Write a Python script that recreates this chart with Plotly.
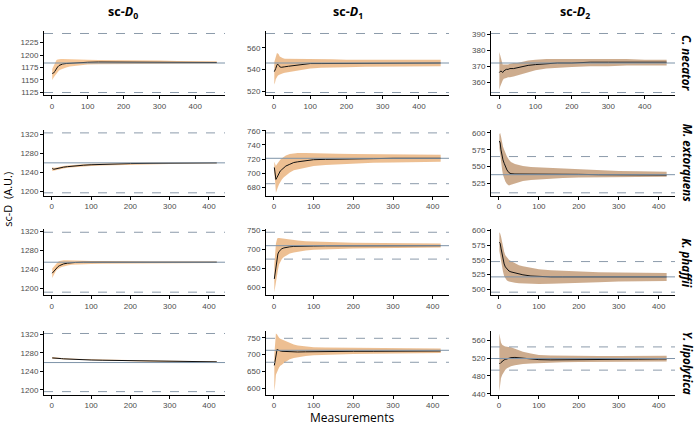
import plotly.graph_objects as go

# ---------------- data ----------------
rows = ["C. necator", "M. extorquens", "K. phaffii", "Y. lipolytica"]
col_sub = ["0", "1", "2"]

x_cn = [1, 3, 5, 8, 10, 13, 16, 20, 25, 30, 40, 50, 60, 80, 100, 130, 160, 200, 250, 300, 350, 400, 460]
x_ot = [1, 3, 5, 8, 10, 13, 16, 20, 25, 30, 40, 50, 60, 80, 100, 130, 160, 200, 250, 300, 350, 400, 420]

# reference values (solid line); dashed lines at +/-5 %
ref_cn = [1184, 546, 372]
ref_me = [1260, 721, 538]
ref_kp = [1255, 710, 521]
ref_yl = [1259, 713, 519]

# C. necator
cn_d0_mean = [1163, 1163, 1164, 1167, 1170, 1173, 1176, 1179, 1181, 1182, 1183, 1183.5, 1184, 1185, 1185.5, 1186, 1186, 1186, 1186, 1185.5, 1185.5, 1185, 1185]
cn_d0_lo = [1150, 1152, 1155, 1158, 1160, 1163, 1166, 1169, 1171, 1173, 1175, 1177, 1178, 1180, 1181, 1181.5, 1182, 1182, 1182.5, 1182.5, 1183, 1183, 1183]
cn_d0_hi = [1172, 1175, 1180, 1185, 1188, 1190, 1191, 1192, 1192, 1192, 1192, 1191.5, 1191, 1191, 1190.5, 1190, 1190, 1189.5, 1189, 1189, 1188, 1188, 1187.5]
cn_d1_mean = [538, 539, 541, 544, 545, 544, 542.5, 542, 542, 542.5, 543, 543.5, 544, 545, 545.5, 545.5, 545.5, 546, 546, 546, 546, 546, 546]
cn_d1_lo = [526, 528, 531, 533, 534, 535, 535, 536, 536.5, 537, 538, 538.5, 539, 540, 541, 541.5, 542, 542, 542.5, 542.5, 543, 543, 543]
cn_d1_hi = [547, 550, 553, 555, 555, 554, 552, 551, 550.5, 550, 550, 550, 550, 550, 550, 549.5, 549.5, 549, 549, 549, 549, 549, 549]
cn_d2_mean = [366, 367, 367, 366.5, 366, 367, 367.5, 368, 368, 368.5, 368.5, 369, 369.5, 370.5, 371, 371.5, 372, 372, 372.5, 372.5, 372.5, 372.5, 372.5]
cn_d2_lo = [355, 357, 359, 360, 361, 362, 362, 362.5, 363, 363, 363.5, 364, 364.5, 366, 367.5, 368.5, 369, 369.5, 370, 370, 370.5, 370.5, 370.5]
cn_d2_hi = [379, 377, 374, 372, 371, 371, 371, 371, 371, 371.5, 372, 372, 372.5, 373.5, 374, 374.5, 374.5, 374.5, 374.5, 374.5, 374.5, 374, 374]

# M. extorquens
me_d0_mean = [1248, 1247, 1246.5, 1247, 1247.5, 1248, 1248.5, 1249, 1250, 1251, 1252, 1253, 1254, 1255, 1256, 1257, 1258, 1258.5, 1259, 1259.5, 1259.5, 1260, 1260]
me_d0_lo = [1243, 1243, 1243, 1244, 1244.5, 1245, 1245.5, 1246, 1247, 1248, 1249.5, 1250.5, 1251.5, 1252.5, 1253.5, 1254.5, 1255.5, 1256.5, 1257, 1257.5, 1258, 1258, 1258.5]
me_d0_hi = [1251, 1250, 1249.5, 1249.5, 1250, 1250.5, 1251, 1251.5, 1252.5, 1253.5, 1254.5, 1255.5, 1256, 1257, 1258, 1259, 1259.5, 1260, 1260.5, 1261, 1261, 1261.5, 1261.5]
me_d1_mean = [708, 700, 691, 694, 697, 700, 703, 705, 708, 710, 712.5, 715, 716, 718, 719, 719.5, 720, 720, 720.5, 721, 721, 721, 721]
me_d1_lo = [700, 688, 672, 676, 680, 684, 688, 691, 694, 697, 701, 704, 706, 708, 710, 711.5, 712.5, 713.5, 714.5, 715, 715.5, 716, 716]
me_d1_hi = [716, 714, 710, 713, 715, 717, 719, 721, 723, 725, 727, 728, 728.5, 728.5, 728, 727.5, 727.5, 727, 727, 726.5, 726.5, 726, 726]
me_d2_mean = [588, 585, 575, 565, 560, 555, 550, 545, 541, 539.5, 539, 539, 539, 539, 539, 539.5, 539, 538.5, 538, 538, 537.5, 537.5, 537.5]
me_d2_lo = [578, 572, 560, 545, 538, 533, 528, 524, 522, 523, 525, 527, 528.5, 530, 531, 532, 533, 534, 534.5, 535, 535, 535, 535]
me_d2_hi = [598, 600, 595, 585, 580, 575, 570, 565, 560, 557, 554, 552, 551, 549.5, 549, 548, 547, 545.5, 544.5, 543.5, 543, 542.5, 542.5]

# K. phaffii
kp_d0_mean = [1232, 1234, 1237, 1240, 1242, 1244, 1246, 1248, 1250, 1251.5, 1253, 1254, 1254.5, 1255, 1255, 1255, 1255, 1255, 1255, 1255, 1255, 1255, 1255]
kp_d0_lo = [1222, 1225, 1229, 1233, 1236, 1239, 1241, 1243, 1245, 1246.5, 1248, 1249.5, 1250.5, 1251, 1251.5, 1252, 1252.5, 1253, 1253, 1253.5, 1253.5, 1253.5, 1253.5]
kp_d0_hi = [1242, 1244, 1247, 1250, 1252, 1254, 1256, 1257.5, 1258.5, 1259, 1259, 1258.5, 1258, 1258, 1257.5, 1257.5, 1257, 1257, 1256.5, 1256.5, 1256.5, 1256.5, 1256.5]
kp_d1_mean = [622, 635, 655, 678, 688, 695, 699, 702, 704, 705.5, 707, 708, 708.5, 709, 709, 709.5, 709.5, 710, 710, 710, 710, 710, 710]
kp_d1_lo = [587, 595, 610, 630, 645, 660, 668, 675, 680, 684, 689, 692, 694, 697, 699, 700.5, 701.5, 702.5, 703.5, 704, 704.5, 705, 705]
kp_d1_hi = [660, 690, 715, 728, 730, 730, 729.5, 729, 728, 727, 725.5, 724.5, 723.5, 722, 721, 720, 719, 718, 717.5, 717, 716.5, 716, 716]
kp_d2_mean = [580, 578, 570, 558, 550, 543, 538, 534, 531, 529.5, 527.5, 526, 524.5, 522.5, 521.5, 521, 521, 521, 521, 521, 521, 521, 521]
kp_d2_lo = [565, 560, 550, 538, 530, 522, 518, 515, 513, 512, 511, 510, 509.5, 509, 509, 509.5, 510, 511.5, 512, 513, 513.5, 514, 514]
kp_d2_hi = [597, 595, 590, 578, 570, 564, 558, 554, 550, 548, 544, 541, 539, 536, 534, 532.5, 531.5, 530, 529, 528.5, 528, 527.5, 527.5]

# Y. lipolytica
yl_d0_mean = [1269, 1269, 1268.5, 1268, 1268, 1268, 1268, 1268, 1267.5, 1267, 1266.5, 1266, 1265.5, 1265, 1264.5, 1264, 1263.5, 1263, 1262, 1261.5, 1261, 1260.5, 1260.5]
yl_d0_lo = [1267, 1267, 1266.5, 1266.5, 1266.5, 1266.5, 1266.5, 1266.5, 1266, 1265.5, 1265, 1264.5, 1264, 1263.5, 1263, 1262.5, 1262, 1261.5, 1260.5, 1260, 1259, 1258.5, 1258.5]
yl_d0_hi = [1271, 1271, 1270.5, 1270, 1270, 1270, 1269.5, 1269.5, 1269, 1268.5, 1268, 1267.5, 1267, 1266.5, 1266, 1265.5, 1265, 1264.5, 1263.5, 1263, 1262.5, 1262, 1262]
yl_d1_mean = [668, 680, 700, 716, 714, 712, 711, 710, 709.5, 709, 708.5, 708, 708, 708.5, 709, 709, 709.5, 710, 710, 710.5, 711, 711, 711]
yl_d1_lo = [590, 610, 640, 650, 655, 662, 667, 670, 675, 680, 686, 690, 693, 696, 698, 700, 701, 702, 703, 704, 704.5, 705, 705]
yl_d1_hi = [700, 730, 763, 760, 755, 750, 747, 745, 742, 738, 733, 730, 727, 724, 722, 721, 720.5, 720, 719.5, 719, 718.5, 718, 718]
yl_d2_mean = [508, 508, 510, 513, 515, 516, 517, 518, 520, 521, 521.5, 520.5, 519.5, 517.5, 516.5, 516, 516, 516, 516.5, 517, 517.5, 518, 518]
yl_d2_lo = [445, 460, 475, 482, 486, 490, 494, 497, 500, 502, 504, 506, 507, 508, 509, 510, 510.5, 511, 511.5, 512, 512, 512.5, 512.5]
yl_d2_hi = [575, 565, 555, 550, 548, 547, 546, 545.5, 545, 544, 541, 537, 534, 530, 527, 525.5, 525, 524.5, 524.5, 524.5, 524.5, 525, 525]

y_dticks = [[25, 20, 10], [40, 20, 25], [40, 50, 25], [40, 50, 40]]

panels = [
    [(x_cn, cn_d0_mean, cn_d0_lo, cn_d0_hi, ref_cn[0]), (x_cn, cn_d1_mean, cn_d1_lo, cn_d1_hi, ref_cn[1]), (x_cn, cn_d2_mean, cn_d2_lo, cn_d2_hi, ref_cn[2])],
    [(x_ot, me_d0_mean, me_d0_lo, me_d0_hi, ref_me[0]), (x_ot, me_d1_mean, me_d1_lo, me_d1_hi, ref_me[1]), (x_ot, me_d2_mean, me_d2_lo, me_d2_hi, ref_me[2])],
    [(x_ot, kp_d0_mean, kp_d0_lo, kp_d0_hi, ref_kp[0]), (x_ot, kp_d1_mean, kp_d1_lo, kp_d1_hi, ref_kp[1]), (x_ot, kp_d2_mean, kp_d2_lo, kp_d2_hi, ref_kp[2])],
    [(x_ot, yl_d0_mean, yl_d0_lo, yl_d0_hi, ref_yl[0]), (x_ot, yl_d1_mean, yl_d1_lo, yl_d1_hi, ref_yl[1]), (x_ot, yl_d2_mean, yl_d2_lo, yl_d2_hi, ref_yl[2])],
]

# ---------------- layout ----------------
W, H = 696, 430
col_px = [(44, 225), (266, 449), (491, 675)]
row_px = [(28, 94), (129, 196), (230, 297), (333, 398)]
ribbon_colors = ["rgba(246,196,146,0.95)", "rgba(236,188,140,0.95)", "rgba(202,168,136,0.95)"]
title_x_px = [123, 348, 575]

fig = go.Figure()
shapes = []
layout_axes = {}
tick_font = dict(family="Liberation Sans, Arial, sans-serif", size=8, color="#4d4d4d")

idx = 0
for r in range(4):
    for c in range(3):
        idx += 1
        xs, mean, lo, hi, ref = panels[r][c]
        xa = "x" if idx == 1 else f"x{idx}"
        ya = "y" if idx == 1 else f"y{idx}"
        fig.add_trace(go.Scatter(
            x=list(xs) + list(xs)[::-1], y=list(hi) + list(lo)[::-1],
            fill="toself", fillcolor=ribbon_colors[c], line=dict(width=0),
            mode="lines", hoverinfo="skip", showlegend=False, xaxis=xa, yaxis=ya))
        fig.add_trace(go.Scatter(
            x=xs, y=mean, mode="lines", line=dict(color="#111111", width=1),
            showlegend=False, xaxis=xa, yaxis=ya))
        # ranges like ggplot (5% expansion)
        allv = list(lo) + list(hi) + list(mean) + [ref * 0.95, ref * 1.05]
        ymin, ymax = min(allv), max(allv)
        sp = ymax - ymin
        xmin, xmax = min(xs), max(xs)
        xsp = xmax - xmin
        x0p, x1p = col_px[c]
        y0p, y1p = row_px[r]
        common = dict(showline=True, linecolor="black", linewidth=1, ticks="outside",
                      ticklen=3, tickcolor="black", tickwidth=1, showgrid=False,
                      zeroline=False, tickfont=tick_font)
        layout_axes["xaxis" if idx == 1 else f"xaxis{idx}"] = dict(
            domain=[x0p / W, x1p / W], anchor=ya, range=[xmin - 0.05 * xsp, xmax + 0.05 * xsp],
            tick0=0, dtick=100, **common)
        layout_axes["yaxis" if idx == 1 else f"yaxis{idx}"] = dict(
            domain=[1 - y1p / H, 1 - y0p / H], anchor=xa, range=[ymin - 0.05 * sp, ymax + 0.05 * sp],
            tick0=0, dtick=y_dticks[r][c], **common)
        xd = ("x" if idx == 1 else f"x{idx}") + " domain"
        shapes.append(dict(type="line", xref=xd, yref=ya, x0=0, x1=1, y0=ref, y1=ref,
                           line=dict(color="#7d93a8", width=1), layer="above"))
        for f in (0.95, 1.05):
            shapes.append(dict(type="line", xref=xd, yref=ya, x0=0, x1=1, y0=ref * f, y1=ref * f,
                               line=dict(color="#8c9bab", width=1, dash="dash"), layer="above"))

annotations = []
for c in range(3):
    annotations.append(dict(text=f"<b>sc-<i>D</i><sub>{col_sub[c]}</sub></b>",
                            x=title_x_px[c] / W, y=1 - 10 / H, xref="paper", yref="paper",
                            showarrow=False, font=dict(family="Open Sans, sans-serif", size=12.5, color="black"),
                            xanchor="center", yanchor="middle"))
for r in range(4):
    y0p, y1p = row_px[r]
    annotations.append(dict(text=f"<b><i>{rows[r]}</i></b>", x=687 / W, y=1 - ((y0p + y1p) / 2) / H,
                            xref="paper", yref="paper", showarrow=False, textangle=90,
                            font=dict(family="Open Sans, sans-serif", size=11.5, color="black"),
                            xanchor="center", yanchor="middle"))
annotations.append(dict(text="sc-D  (A.U.)", x=8 / W, y=1 - 200 / H, xref="paper", yref="paper",
                        showarrow=False, textangle=-90,
                        font=dict(family="Open Sans, sans-serif", size=11, color="black"),
                        xanchor="center", yanchor="middle"))
annotations.append(dict(text="Measurements", x=352 / W, y=1 - 421 / H, xref="paper", yref="paper",
                        showarrow=False, font=dict(family="Open Sans, sans-serif", size=12, color="black"),
                        xanchor="center", yanchor="middle"))

fig.update_layout(width=W, height=H, margin=dict(l=0, r=0, t=0, b=0),
                  paper_bgcolor="white", plot_bgcolor="white",
                  shapes=shapes, annotations=annotations, showlegend=False, **layout_axes)

fig.write_html("out.html", config={"displayModeBar": False},
               post_script="document.body.style.margin='0';document.body.style.padding='0';")
